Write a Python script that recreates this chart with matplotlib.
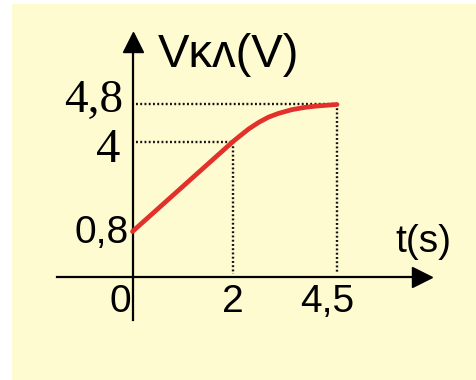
import numpy as np
import matplotlib
matplotlib.use("Agg")
import matplotlib.pyplot as plt
from matplotlib.patches import Rectangle

# curve (schematic graph, axes not to scale)
t_vals = [0, 2.0, 2.15, 2.39, 2.63, 2.86, 3.10, 3.42, 3.74, 4.05, 4.5]
v_vals = [0.8, 4.0, 4.11, 4.28, 4.42, 4.53, 4.61, 4.69, 4.74, 4.77, 4.8]

x_ticks = [0, 2, 4.5]
x_labels = ["0", "2", "4,5"]
y_ticks = [0.8, 4, 4.8]
y_labels = ["0,8", "4", "4,8"]
x_title = "t(s)"
y_title = "Vκʌ(V)"

# the drawing is schematic: piecewise-linear scales (knots -> pixels)
t_knots, t_px = [0, 2, 4.5], [0, 100, 204.5]
v_knots, v_px = [0, 0.8, 4, 4.8], [0, 45, 134.5, 172]


def piecewise(vals, xs, ys):
    vals = np.asarray(vals, dtype=float)
    shape = vals.shape
    vals = vals.ravel()
    out = np.interp(vals, xs, ys)
    lo = vals < xs[0]
    hi = vals > xs[-1]
    out[lo] = ys[0] + (vals[lo] - xs[0]) * (ys[1] - ys[0]) / (xs[1] - xs[0])
    out[hi] = ys[-1] + (vals[hi] - xs[-1]) * (ys[-1] - ys[-2]) / (xs[-1] - xs[-2])
    return out.reshape(shape)


t_fwd = lambda a: piecewise(a, t_knots, t_px)
t_inv = lambda a: piecewise(a, t_px, t_knots)
v_fwd = lambda a: piecewise(a, v_knots, v_px)
v_inv = lambda a: piecewise(a, v_px, v_knots)

W, H = 476, 380
fig = plt.figure(figsize=(W / 100, H / 100), dpi=100)
fig.patch.set_facecolor("white")
fig.patches.append(Rectangle((12 / W, 0), 1 - 12 / W, (H - 4) / H,
                             transform=fig.transFigure, facecolor="#FFFBD0",
                             edgecolor="none", zorder=-5))

ax = fig.add_axes([56.7 / W, (H - 320) / H, (421.7 - 56.7) / W, (320 - 42) / H])
ax.set_zorder(2)
ax.patch.set_visible(False)
ax.set_xscale("function", functions=(t_fwd, t_inv))
ax.set_yscale("function", functions=(v_fwd, v_inv))
ax.set_xlim(float(t_inv(-75.8)), float(t_inv(289.2)))
ax.set_ylim(float(v_inv(-43.5)), float(v_inv(234.5)))

for s in ["top", "right"]:
    ax.spines[s].set_visible(False)
ax.spines["left"].set_position(("data", 0))
ax.spines["bottom"].set_position(("data", 0))
ax.spines["left"].set_linewidth(1.6)
ax.spines["bottom"].set_linewidth(1.6)
ax.set_xticks([])
ax.set_yticks([])
ax.minorticks_off()
ax.plot(1, 0, ">k", ms=14, transform=ax.get_yaxis_transform(), clip_on=False)
ax.plot(0, 1, "^k", ms=14, transform=ax.get_xaxis_transform(), clip_on=False)

# dotted guide lines
dot = dict(color="#111111", lw=1.7, linestyle=(0, (0.8, 1.0)))
ax.plot([0.06, x_ticks[2]], [y_ticks[2], y_ticks[2]], **dot)
ax.plot([0.06, x_ticks[1]], [y_ticks[1], y_ticks[1]], **dot)
ax.plot([x_ticks[1], x_ticks[1]], [y_ticks[1], 0.05], **dot)
ax.plot([x_ticks[2], x_ticks[2]], [y_ticks[2], 0.05], **dot)

ax.plot(t_vals, v_vals, color="#E2302B", lw=3.4, solid_capstyle="round",
        solid_joinstyle="round", zorder=3)

sans = ["Liberation Sans", "DejaVu Sans"]
serif = ["Liberation Serif", "DejaVu Serif"]

x_offsets = [(-9, -25.6), (0, -25.6), (-6.8, -25.6)]
for val, lab, off in zip(x_ticks, x_labels, x_offsets):
    ax.annotate(lab, (val, 0), xytext=off, textcoords="offset points",
                ha="center", va="baseline", fontsize=28, family=sans)

ax.annotate(y_labels[0], (0, y_ticks[0]), xytext=(-2.5, -8.5), textcoords="offset points",
            ha="right", va="baseline", fontsize=28, family=sans)
ax.annotate(y_labels[1], (0, y_ticks[1]), xytext=(-8.5, -14.2), textcoords="offset points",
            ha="right", va="baseline", fontsize=35, family=serif)
ax.annotate(y_labels[2], (0, y_ticks[2]), xytext=(-7, -5.2), textcoords="offset points",
            ha="right", va="baseline", fontsize=34, family=serif)

fig.text(395 / W, (H - 252) / H, x_title, ha="left", va="baseline", fontsize=28, family=sans)
fig.text(158 / W, (H - 67) / H, y_title, ha="left", va="baseline", fontsize=34, family=sans)

fig.savefig("out.png", dpi=100)
